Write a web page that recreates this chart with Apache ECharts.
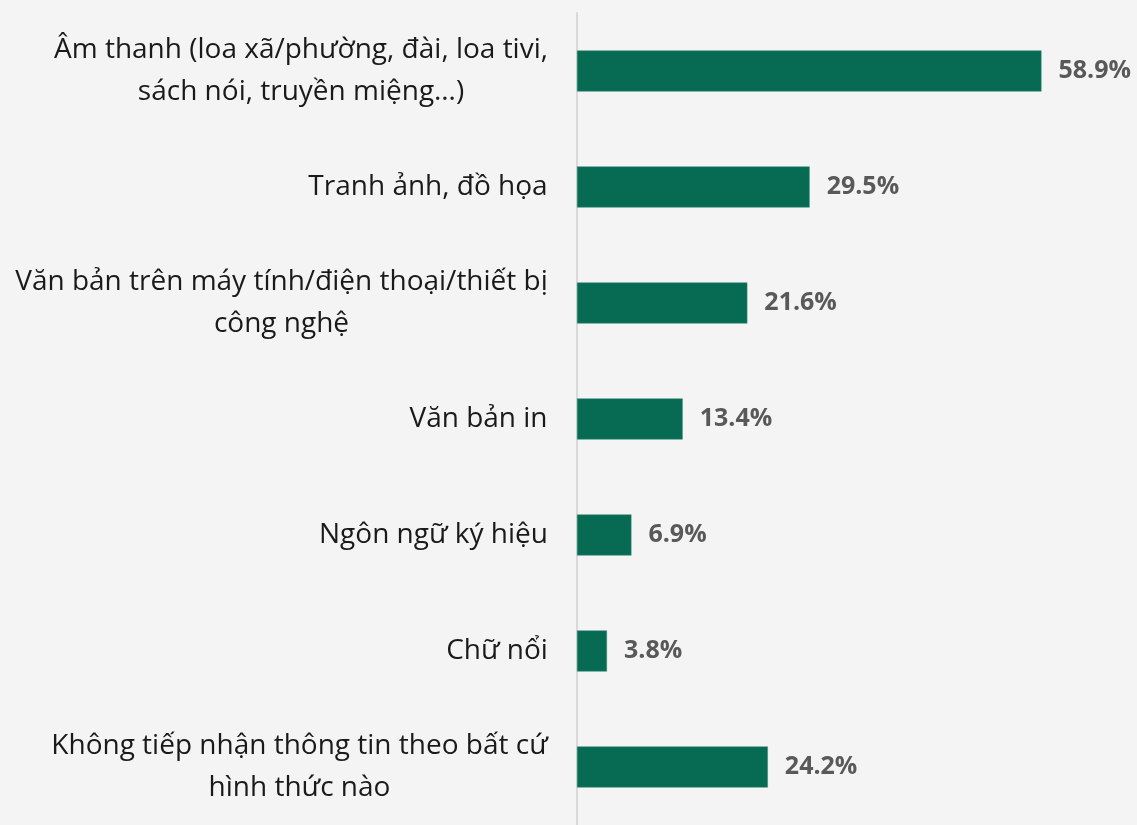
<!DOCTYPE html>
<html>
<head>
<meta charset="utf-8">
<script src="https://cdn.jsdelivr.net/npm/echarts@6/dist/echarts.min.js"></script>
<style>
  html, body { margin: 0; padding: 0; background: #f4f4f4; }
  #chart { width: 1137px; height: 825px; }
</style>
</head>
<body>
<div id="chart"></div>
<script>
// categories top -> bottom (line breaks as in the original)
const categories = [
  'Âm thanh (loa xã/phường, đài, loa tivi,\nsách nói, truyền miệng…)',
  'Tranh ảnh, đồ họa',
  'Văn bản trên máy tính/điện thoại/thiết bị\ncông nghệ',
  'Văn bản in',
  'Ngôn ngữ ký hiệu',
  'Chữ nổi',
  'Không tiếp nhận thông tin theo bất cứ\nhình thức nào'
]
const values = [58.9, 29.5, 21.6, 13.4, 6.9, 3.8, 24.2]

const labelFont = 28
// measure each label so its lines can be centred inside a right-aligned block
let ctx = document.createElement('canvas').getContext('2d')
ctx.font = labelFont + 'px "Open Sans"'
let rich = {}
categories.forEach((c, i) => {
  let w = Math.max(...c.split('\n').map(l => ctx.measureText(l).width))
  rich['c' + i] = {
    width: Math.ceil(w),
    align: 'center',
    fontFamily: 'Open Sans',
    fontSize: labelFont,
    lineHeight: 42,
    color: '#1a1a1a'
  }
})

let chartDom = document.getElementById('chart')
let myChart = echarts.init(chartDom)
let option = {
  backgroundColor: '#f4f4f4',
  animation: false,
  grid: {
    left: 577,
    top: 13,
    width: 552,
    height: 819,
    containLabel: false
  },
  xAxis: {
    type: 'value',
    min: 0,
    max: 70,
    show: false
  },
  yAxis: {
    type: 'category',
    inverse: true,
    data: categories,
    axisTick: { show: false },
    axisLine: {
      lineStyle: { color: '#d9d9d9', width: 2 }
    },
    axisLabel: {
      margin: 29,
      align: 'right',
      formatter: function (val, idx) {
        return val.split('\n').map(l => '{c' + idx + '|' + l + '}').join('\n')
      },
      rich: rich
    }
  },
  series: [
    {
      type: 'bar',
      data: values,
      barWidth: 41,
      itemStyle: {
        color: '#076a52',
        borderColor: '#2f8a72',
        borderWidth: 0.5
      },
      label: {
        show: true,
        position: 'right',
        distance: 17,
        formatter: p => p.value.toFixed(1) + '%',
        fontFamily: 'Open Sans',
        fontWeight: 'bold',
        fontSize: 25,
        color: '#595959'
      }
    }
  ]
}
option && myChart.setOption(option)
</script>
</body>
</html>
